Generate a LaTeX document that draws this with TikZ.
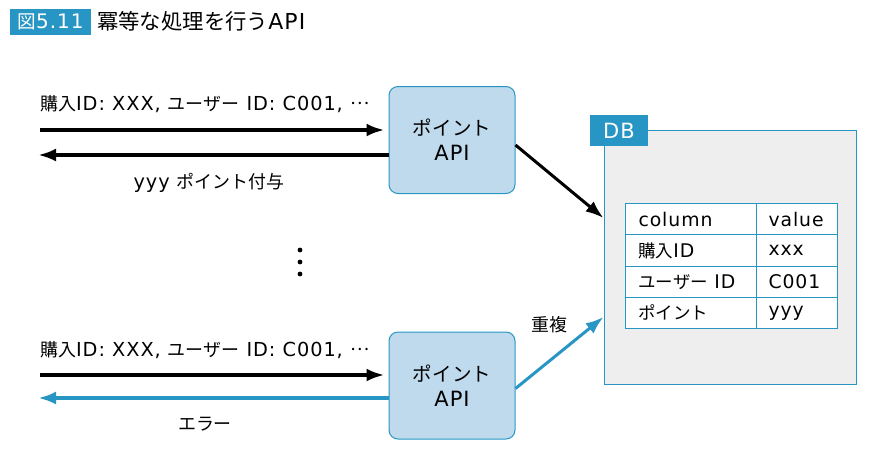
\documentclass[tikz,border=0pt]{standalone}
\usepackage{fontspec}
\setmainfont{DejaVu Sans}[LetterSpace=5]
\newfontfamily\jp{Noto Sans CJK JP}[Scale=0.93]
\usetikzlibrary{arrows.meta}
\definecolor{dbblue}{RGB}{40,150,196}
\definecolor{apifill}{RGB}{190,218,236}
\definecolor{dbgray}{RGB}{238,238,238}
\newcommand{\mdots}{\raisebox{0.3em}{\jp …}}
\tikzset{
  apibox/.style={draw=dbblue, fill=apifill, rounded corners=9pt, line width=1pt,
    minimum width=126pt, minimum height=107pt, align=center,
    font=\fontsize{21}{25}\selectfont},
  msg/.style={inner sep=0pt, font=\fontsize{19.3}{22}\selectfont},
  flow/.style={line width=3.6pt, -{Latex[length=18pt,width=13pt]}},
  cell/.style={draw=dbblue, fill=white, line width=1pt, anchor=north west,
    minimum height=31.25pt, inner ysep=0pt, align=left,
    font=\fontsize{18.8}{22}\selectfont},
}
\begin{document}
\begin{tikzpicture}[x=1pt,y=-1pt]
\useasboundingbox (0,0) rectangle (870,456);
% title
\node[fill=dbblue, text=white, minimum width=81pt, minimum height=26pt, inner sep=0pt,
  font=\fontsize{20}{24}\selectfont] (fig) at (50.5,21.5) {{\jp 図}5.11};
\node[anchor=west, inner sep=0pt, font=\fontsize{22}{28}\selectfont] (title) at (97,21.5)
  {{\jp\fontsize{23}{28}\selectfont 冪等な処理を行う}API};
% api boxes
\node[apibox] (api1) at (452,140) {{\jp ポイント}\\API};
\node[apibox] (api2) at (452,385.5) {{\jp ポイント}\\API};
% db
\node[draw=dbblue, fill=dbgray, line width=1pt, minimum width=252pt, minimum height=254pt] (db) at (730,257) {};
\node[fill=dbblue, text=white, minimum width=58pt, minimum height=31pt, inner sep=0pt,
  font=\fontsize{21}{24}\selectfont] (dbtab) at (619,130.5) {DB};
\foreach \lab/\val [count=\i] in {column/value, {\jp 購入}ID/xxx, {\jp ユーザー} ID/C001, {\jp ポイント}/yyy}{
  \node[cell, text width=105pt, inner xsep=13pt] (c\i) at (625,{203+31.25*(\i-1)}) {\lab};
  \node[cell, text width=57pt, inner xsep=12pt] (v\i) at (756,{203+31.25*(\i-1)}) {\val};
}
% top request
\coordinate (in1) at (40,130);
\coordinate (out1) at (38,155);
\draw[flow] (in1) -- ([xshift=-4pt]api1.west |- in1);
\draw[flow] (api1.west |- out1) -- (out1);
\node[msg, anchor=west] (req1) at (40,104) {{\jp 購入}ID: XXX, {\jp ユーザー} ID: C001, \mdots};
\node[msg] (res1) at (209,183) {yyy {\jp ポイント付与}};
% dots
\foreach \y [count=\j] in {250,262,274}
  \fill (300,\y) circle (2.4pt) coordinate (dot\j);
% bottom request
\coordinate (in2) at (40,375);
\coordinate (out2) at (38,398);
\draw[flow] (in2) -- ([xshift=-4pt]api2.west |- in2);
\draw[flow, dbblue] (api2.west |- out2) -- (out2);
\node[msg, anchor=west] (req2) at (40,350) {{\jp 購入}ID: XXX, {\jp ユーザー} ID: C001, \mdots};
\node[msg] (res2) at (205,424) {{\jp エラー}};
% to db
\draw[flow, line width=3pt] ([yshift=-5pt]api1.east) -- ([yshift=39pt]db.west);
\draw[flow, line width=3pt, dbblue] ([yshift=-3pt]api2.east) -- ([yshift=-60pt]db.west);
\node[msg] (dup) at (549,325) {{\jp 重複}};
\end{tikzpicture}
\end{document}
